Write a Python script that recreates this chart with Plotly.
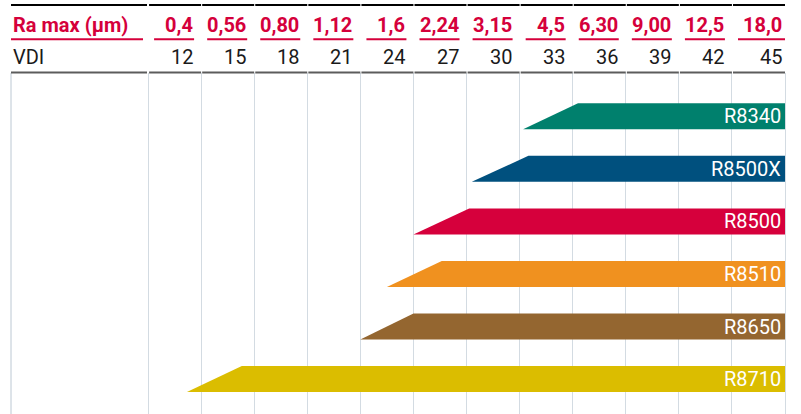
import plotly.graph_objects as go

# ---------------- data ----------------
ra_max_labels = ["0,4", "0,56", "0,80", "1,12", "1,6", "2,24", "3,15", "4,5", "6,30", "9,00", "12,5", "18,0"]
vdi_values = [12, 15, 18, 21, 24, 27, 30, 33, 36, 39, 42, 45]
header_ra = "Ra max (µm)"
header_vdi = "VDI"

products = ["R8340", "R8500X", "R8500", "R8510", "R8650", "R8710"]
vdi_start = [30.2, 27.3, 24.0, 22.5, 21.0, 11.2]      # lower-left corner of slanted start
vdi_full = [33.3, 30.5, 27.15, 25.6, 24.0, 14.3]     # upper-left corner (full range)
vdi_end = [45, 45, 45, 45, 45, 45]
bar_colors = ["#00806d", "#00507e", "#d6003c", "#f0911f", "#946630", "#dbbd00"]

# ---------------- style ----------------
RED = "#d5003b"
BLACK = "#1a1a1a"
GRID = "#d3dbe2"
W, H = 801, 414
TOP = 73
ROW_H = 52.55
BAR_H = 26 / ROW_H
FONT = "Roboto"

x_range = [0.635, 45.904]
y_top = -(116.3 - TOP) / ROW_H
y_bottom = (H - 116.3) / ROW_H

def ypaper(px):
    return (H - px) / (H - TOP)

fig = go.Figure()

for i, name in enumerate(products):
    yb = i + BAR_H / 2
    yt = i - BAR_H / 2
    fig.add_trace(go.Scatter(
        x=[vdi_start[i], vdi_full[i], vdi_end[i], vdi_end[i], vdi_start[i]],
        y=[yb, yt, yt, yb, yb],
        mode="lines", fill="toself", fillcolor=bar_colors[i],
        line=dict(width=0, color=bar_colors[i]),
        hoverinfo="skip", showlegend=False,
    ))
    fig.add_annotation(x=vdi_end[i], y=i, xref="x", yref="y", text=name,
                       showarrow=False, xanchor="right", yanchor="middle", xshift=-2,
                       font=dict(family=FONT, size=20, color="white"))

shapes = []
annotations = []

# top black line segments
shapes.append(dict(type="line", xref="x", yref="paper", xsizemode="pixel", xanchor=9,
                   x0=-137, x1=-1, y0=ypaper(5), y1=ypaper(5), line=dict(color="black", width=2)))
for v in vdi_values:
    shapes.append(dict(type="line", xref="x", yref="paper", xsizemode="pixel", xanchor=v,
                       x0=-52, x1=0, y0=ypaper(5), y1=ypaper(5), line=dict(color="black", width=2)))

# gray separator
shapes.append(dict(type="line", xref="x", yref="paper", xsizemode="pixel", xanchor=9,
                   x0=-137, x1=-1, y0=ypaper(72.5), y1=ypaper(72.5), line=dict(color="#5c5c5c", width=2)))
for v in vdi_values:
    shapes.append(dict(type="line", xref="x", yref="paper", xsizemode="pixel", xanchor=v,
                       x0=-52, x1=0, y0=ypaper(72.5), y1=ypaper(72.5), line=dict(color="#5c5c5c", width=2)))

# red underlines
shapes.append(dict(type="line", xref="x", yref="paper", xsizemode="pixel", xanchor=9,
                   x0=-137, x1=-5, y0=ypaper(39.3), y1=ypaper(39.3), line=dict(color=RED, width=2)))
for k, v in enumerate(vdi_values):
    x1 = 0 if k == len(vdi_values) - 1 else -7
    shapes.append(dict(type="line", xref="x", yref="paper", xsizemode="pixel", xanchor=v,
                       x0=-47, x1=x1, y0=ypaper(39.3), y1=ypaper(39.3), line=dict(color=RED, width=2)))

# left border
shapes.append(dict(type="line", xref="x", yref="paper", xsizemode="pixel", xanchor=9,
                   x0=-137, x1=-137, y0=0, y1=1, line=dict(color=GRID, width=1.5), layer="below"))

# header texts
annotations.append(dict(x=9, xref="x", xshift=-137, y=ypaper(25.3), yref="paper", text="<b>%s</b>" % header_ra,
                        showarrow=False, xanchor="left", yanchor="middle",
                        font=dict(family=FONT, size=20, color=RED)))
annotations.append(dict(x=9, xref="x", xshift=-137, y=ypaper(57.2), yref="paper", text=header_vdi,
                        showarrow=False, xanchor="left", yanchor="middle",
                        font=dict(family=FONT, size=20, color=BLACK)))
for k, (lab, v) in enumerate(zip(ra_max_labels, vdi_values)):
    sh = -1 if k == len(vdi_values) - 1 else -6
    annotations.append(dict(x=v, xref="x", xshift=sh, y=ypaper(25.3), yref="paper", text="<b>%s</b>" % lab,
                            showarrow=False, xanchor="right", yanchor="middle",
                            font=dict(family=FONT, size=20, color=RED)))
    annotations.append(dict(x=v, xref="x", xshift=sh, y=ypaper(57.2), yref="paper", text=str(v),
                            showarrow=False, xanchor="right", yanchor="middle",
                            font=dict(family=FONT, size=20, color=BLACK)))

for s in shapes:
    fig.add_shape(**s)
for a in annotations:
    fig.add_annotation(**a)

fig.update_layout(
    width=W, height=H,
    margin=dict(l=0, r=0, t=TOP, b=0),
    paper_bgcolor="white", plot_bgcolor="white",
    showlegend=False,
    xaxis=dict(range=x_range, tickvals=[9] + vdi_values, showticklabels=False, ticks="",
               showgrid=True, gridcolor=GRID, gridwidth=1.3, zeroline=False, showline=False, fixedrange=True),
    yaxis=dict(range=[y_bottom, y_top], showticklabels=False, ticks="", showgrid=False,
               zeroline=False, showline=False, fixedrange=True),
)

fig.write_html("out.html", config={"displayModeBar": False},
               post_script="document.body.style.margin='0';document.body.style.overflow='hidden';")
